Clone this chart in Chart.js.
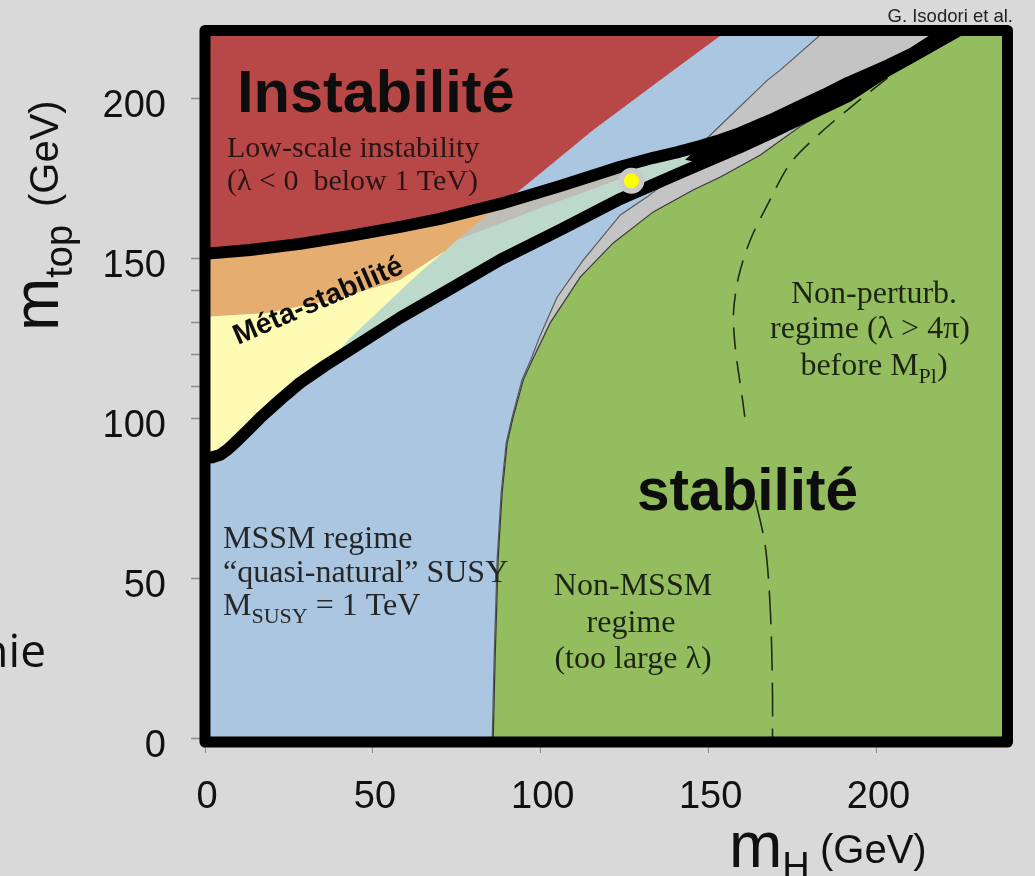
<!DOCTYPE html>
<html>
<head>
<meta charset="utf-8">
<title>Stabilité du vide : m_top vs m_H</title>
<script src="https://cdn.jsdelivr.net/npm/chart.js@4.4.1/dist/chart.umd.min.js"></script>
<style>
  html, body { margin: 0; padding: 0; background: #d9d9d9; }
  #wrap { position: relative; width: 1035px; height: 876px; }
  canvas { display: block; }
</style>
</head>
<body>
<div id="wrap"><canvas id="chart" width="1035" height="876"></canvas></div>
<script>
// All curves are [mH (GeV), m_top (GeV)] pairs.

// Upper edge of the metastability band (below it: lambda < 0 below 1 TeV)
const instabilityBound = [[0,151.6],[13.4,152.8],[28.3,154.7],[43.2,157.2],[58.1,160.0],[70.0,162.5],[87.9,167.2],[105.8,172.8],[123.7,178.8],[133.5,181.6],[140.5,183.3],[147.5,185.3],[153.5,187.2],[159.5,189.4],[168.4,193.4],[177.3,197.8],[184.4,201.3],[191.4,205.0],[203.3,210.5],[211.0,214.4],[221.5,221.5]];
// Lower edge of the metastability band (absolute stability below it)
const stabilityBound = [[0,87.8],[2.2,88.0],[4.5,88.75],[6.7,90.4],[8.9,92.5],[12.6,96.3],[16.4,100.3],[22.3,105.9],[28.3,111.25],[35.7,116.6],[43.2,121.6],[58.1,131.6],[73.0,140.6],[87.9,149.7],[105.8,159.1],[123.7,168.75],[141.6,176.9],[148.0,179.8],[159.5,185.0],[168.4,189.3],[177.3,193.75],[191.4,200.8],[203.3,209.0],[211.0,213.4],[224.4,221.4]];
// Left edge of the MSSM (M_SUSY = 1 TeV) region
const susyTopBound = [[39.0,120.3],[43.2,125.3],[64.1,145.9],[71.5,152.5],[75.1,155.9],[84.1,163.75],[89.4,167.7],[115.6,190.3],[135.6,205.9],[157.0,222.5]];
// Split of the metastable band into its two shades
const metaInnerBound = [[0,131.9],[18.5,133.1],[38.2,137.2],[58.1,143.4],[71.5,152.5]];
// Grey wedge inside the band, right of the MSSM edge
const wedgeBound = [[75.1,155.9],[99.9,165.9],[122.8,174.7],[130.0,180.6]];
// Right edge of the MSSM region (grey transition band starts here)
const susyHiggsEdge = [[85.5,-2],[86.1,24.7],[87.0,55.9],[88.2,76.9],[89.7,92.5],[91.5,100.6],[94.4,112.2],[97.0,118.4],[99.9,126.25],[104.9,138.1],[112.7,149.7],[123.7,163.75],[131.7,169.4],[139.5,175.6],[149.6,187.8],[167.5,205.9],[171.4,209.1],[186.5,223]];
// Edge of the non-MSSM region (too large lambda)
const nonSusyEdge = [[85.8,-2],[86.4,24.7],[87.3,55.9],[88.5,76.9],[90.0,92.5],[91.8,100.6],[94.8,112.2],[97.5,118.4],[102.8,130.0],[111.8,144.4],[121.6,155.0],[133.5,164.7],[145.5,171.6],[153.5,175.6],[165.4,182.5],[177.3,191.5],[192.3,200.6],[211.0,211.6],[226.0,223]];
// Perturbativity limit (lambda > 4 pi before M_Pl), split where the label sits
const perturbBoundUpper = [[203.3,206.6],[193.1,198.1],[183.3,189.4],[174.4,180.0],[167.5,166.9],[162.4,155.9],[158.9,144.4],[157.4,133.1],[158.0,121.6],[160.1,105.9],[161.0,98.7]];
const perturbBoundLower = [[163.9,74.7],[166.9,60.0],[168.4,39.4],[169.0,15.3],[169.0,-2]];
// Point where the two band edges start to merge
const bandMergeStart = [143.0, 181.0];
// Measured point (m_H, m_top)
const higgsPoint = [127.0, 174.4];

// Axis ranges and tick labels
const mHRange = [0, 239];
const mTopRange = [-1, 221.4];
const mHTicks = [0, 50, 100, 150, 200];
const mTopTicks = [0, 50, 100, 150, 200];
const mTopMinorTicks = [110, 120, 130, 140];

const FONT_SANS = '"Liberation Sans", Arial, sans-serif';
const FONT_SERIF = '"Liberation Serif", "Times New Roman", serif';

const RIGHT = 240, TOP = 223, BOTTOM = -2;

// Region outlines assembled from the boundary curves
const rev = a => a.slice().reverse();
const blueRegion = [[0, BOTTOM], [RIGHT, BOTTOM], [RIGHT, TOP], [0, TOP]];
const redRegion = [[0, TOP]].concat(rev(susyTopBound.filter(p => p[1] >= 167.7)), rev(instabilityBound.filter(p => p[0] < 89.4)));
const orangeRegion = instabilityBound.filter(p => p[0] < 89.4).concat(rev(susyTopBound.filter(p => p[1] >= 152.5 && p[1] <= 167.7)), rev(metaInnerBound));
const yellowRegion = metaInnerBound.concat(rev(susyTopBound.filter(p => p[1] <= 152.5)), rev(stabilityBound.filter(p => p[0] < 39)));
const tealRegion = instabilityBound.filter(p => p[0] >= 28 && p[0] <= 160).concat(rev(stabilityBound.filter(p => p[0] >= 28 && p[0] <= 160)));
const wedgeRegion = susyTopBound.filter(p => p[1] >= 155.9 && p[1] <= 167.7).concat(instabilityBound.filter(p => p[0] > 89.4 && p[0] < 130), rev(wedgeBound));
const greyRegion = susyHiggsEdge.concat([[RIGHT, TOP], [RIGHT, BOTTOM]]);
const greenRegion = nonSusyEdge.concat([[RIGHT, TOP], [RIGHT, BOTTOM]]);
const bandRegion = [bandMergeStart].concat(instabilityBound.filter(p => p[0] >= 147.5), rev(stabilityBound.filter(p => p[0] >= 147.5)));

const xy = pts => pts.map(([x, y]) => ({ x, y }));

function region(label, pts, color, edge) {
  return {
    label, data: xy(pts), fill: 'shape', backgroundColor: color,
    borderColor: edge || 'rgba(0,0,0,0)', borderWidth: edge ? 1.2 : 0,
    pointRadius: 0, tension: 0
  };
}
function curve(label, pts, width, extra) {
  return Object.assign({
    label, data: xy(pts), fill: false, borderColor: '#000', borderWidth: width,
    pointRadius: 0, tension: 0, borderCapStyle: 'round', borderJoinStyle: 'round'
  }, extra || {});
}

// bottom → top
const layers = [
  region('MSSM regime', blueRegion, '#abc6e0'),
  region('transition', greyRegion, '#c4c4c4', '#5a5a5a'),
  region('Non-MSSM regime', greenRegion, '#93bd5f', '#3a3a3a'),
  region('Instabilité', redRegion, '#b84848'),
  region('bande', tealRegion, '#bcd9cc'),
  region('bande grise', wedgeRegion, '#bebdb6'),
  region('Méta-stabilité (haut)', orangeRegion, '#e6ad70'),
  region('Méta-stabilité (bas)', yellowRegion, '#fefbb5'),
  region('bande étroite', bandRegion, '#000'),
  curve('non-perturbatif', perturbBoundUpper, 1.6, { borderColor: '#1e2a18', borderDash: [22, 12], borderCapStyle: 'butt', tension: 0.3 }),
  curve('non-perturbatif 2', perturbBoundLower, 1.6, { borderColor: '#1e2a18', borderDash: [34, 12], borderCapStyle: 'butt', tension: 0.3 }),
  curve('limite instabilité', instabilityBound, 12),
  curve('limite stabilité', stabilityBound, 12),
  {
    label: 'mesure', data: [{ x: higgsPoint[0], y: higgsPoint[1] }], showLine: false,
    pointRadius: 10.25, borderWidth: 5.5, backgroundColor: '#ffff00', borderColor: '#c9c9c9'
  }
];
layers.forEach((d, i) => { d.order = layers.length - i; });

const framePlugin = {
  id: 'frame',
  afterDatasetsDraw(chart) {
    const { ctx, chartArea: a } = chart;
    ctx.save();
    ctx.lineWidth = 11;
    ctx.strokeStyle = '#000';
    ctx.lineJoin = 'round';
    ctx.strokeRect(a.left, a.top, a.right - a.left, a.bottom - a.top);
    ctx.restore();
  }
};

// Draws a run of text pieces (normal + subscript) starting at x
function runWidth(ctx, parts) {
  let w = 0;
  for (const p of parts) { ctx.font = p.font; w += ctx.measureText(p.t).width; }
  return w;
}
function drawRun(ctx, parts, x, y, align) {
  let cx = x;
  if (align === 'center') cx = x - runWidth(ctx, parts) / 2;
  else if (align === 'right') cx = x - runWidth(ctx, parts);
  ctx.textAlign = 'left';
  for (const p of parts) {
    ctx.font = p.font;
    ctx.fillText(p.t, cx, y + (p.dy || 0));
    cx += ctx.measureText(p.t).width;
  }
}

const labelsPlugin = {
  id: 'labels',
  afterDraw(chart) {
    const ctx = chart.ctx;
    ctx.save();
    ctx.textBaseline = 'alphabetic';
    const serif = s => `${s}px ${FONT_SERIF}`;
    const sans = s => `${s}px ${FONT_SANS}`;
    const bold = s => `bold ${s}px ${FONT_SANS}`;

    // region titles
    ctx.fillStyle = '#0d0d0d';
    drawRun(ctx, [{ t: 'Instabilité', font: bold(59.5) }], 237, 112);
    drawRun(ctx, [{ t: 'stabilité', font: bold(58.5) }], 637, 510);
    ctx.save();
    ctx.translate(238, 345);
    ctx.rotate(-23.5 * Math.PI / 180);
    drawRun(ctx, [{ t: 'Méta-stabilité', font: bold(28.5) }], 0, 0);
    ctx.restore();

    // descriptions
    ctx.fillStyle = '#2a1414';
    drawRun(ctx, [{ t: 'Low-scale instability', font: serif(30) }], 227, 157);
    drawRun(ctx, [{ t: '(λ < 0  below 1 TeV)', font: serif(30) }], 227, 190);

    ctx.fillStyle = '#262626';
    drawRun(ctx, [{ t: 'MSSM regime', font: serif(32) }], 223, 548);
    drawRun(ctx, [{ t: '“quasi-natural” SUSY', font: serif(32) }], 223, 582);
    drawRun(ctx, [{ t: 'M', font: serif(32) }, { t: 'SUSY', font: serif(22), dy: 8 }, { t: ' = 1 TeV', font: serif(32) }], 223, 615);

    ctx.fillStyle = '#1c2414';
    drawRun(ctx, [{ t: 'Non-MSSM', font: serif(32) }], 633, 595, 'center');
    drawRun(ctx, [{ t: 'regime', font: serif(32) }], 631, 632, 'center');
    drawRun(ctx, [{ t: '(too large λ)', font: serif(32) }], 633, 668, 'center');

    drawRun(ctx, [{ t: 'Non-perturb.', font: serif(32) }], 874, 303, 'center');
    drawRun(ctx, [{ t: 'regime (λ > 4π)', font: serif(32) }], 870, 338, 'center');
    drawRun(ctx, [{ t: 'before M', font: serif(32) }, { t: 'Pl', font: serif(22), dy: 8 }, { t: ')', font: serif(32) }], 874, 375, 'center');

    // credit
    ctx.fillStyle = '#222';
    drawRun(ctx, [{ t: 'G. Isodori et al.', font: sans(18.5) }], 1013, 22, 'right');

    // axis titles
    ctx.fillStyle = '#111';
    drawRun(ctx, [{ t: 'm', font: sans(64) }, { t: 'H', font: sans(38), dy: 12 }], 729, 867);
    drawRun(ctx, [{ t: '(GeV)', font: sans(40) }], 820, 863);

    ctx.save();
    ctx.translate(58, 331);
    ctx.rotate(-Math.PI / 2);
    drawRun(ctx, [{ t: 'm', font: sans(64) }, { t: 'top', font: sans(38), dy: 14 }], 0, 0);
    drawRun(ctx, [{ t: '(GeV)', font: sans(40) }], 124, 0);
    ctx.restore();

    // slide text at the left edge
    ctx.fillStyle = '#111';
    drawRun(ctx, [{ t: 'nie', font: `46px "Open Sans", ${FONT_SANS}` }], 46, 667, 'right');

    ctx.restore();
  }
};

Chart.defaults.font.family = FONT_SANS;

new Chart(document.getElementById('chart'), {
  type: 'line',
  data: { datasets: layers },
  plugins: [framePlugin, labelsPlugin],
  options: {
    responsive: false,
    animation: false,
    events: [],
    layout: { padding: { left: 0, right: 27.5, top: 30.5, bottom: 0 } },
    plugins: { legend: { display: false }, tooltip: { enabled: false }, title: { display: false } },
    scales: {
      x: {
        type: 'linear', position: 'bottom',
        min: mHRange[0], max: mHRange[1],
        afterFit: s => { s.height = 134; s.paddingLeft = 0; s.paddingRight = 0; },
        afterBuildTicks: s => { s.ticks = mHTicks.map(v => ({ value: v })); },
        border: { display: false },
        grid: { drawOnChartArea: false, drawTicks: true, tickLength: 11, tickWidth: 1, tickColor: '#8a8a8a' },
        ticks: { autoSkip: false, maxRotation: 0, padding: 22, labelOffset: 2, color: '#111', font: { family: FONT_SANS, size: 38 } }
      },
      y: {
        type: 'linear', position: 'left',
        min: mTopRange[0], max: mTopRange[1],
        afterFit: s => { s.width = 205; s.paddingTop = 0; s.paddingBottom = 0; },
        afterBuildTicks: s => { s.ticks = mTopTicks.concat(mTopMinorTicks).sort((a, b) => a - b).map(v => ({ value: v })); },
        border: { display: false },
        grid: { drawOnChartArea: false, drawTicks: true, tickLength: 14, tickWidth: 1.5, tickColor: '#8a8a8a' },
        ticks: {
          autoSkip: false, padding: 25, labelOffset: 8, color: '#111', font: { family: FONT_SANS, size: 38 },
          callback: v => (mTopTicks.includes(v) ? String(v) : '')
        }
      }
    }
  }
});
</script>
</body>
</html>
